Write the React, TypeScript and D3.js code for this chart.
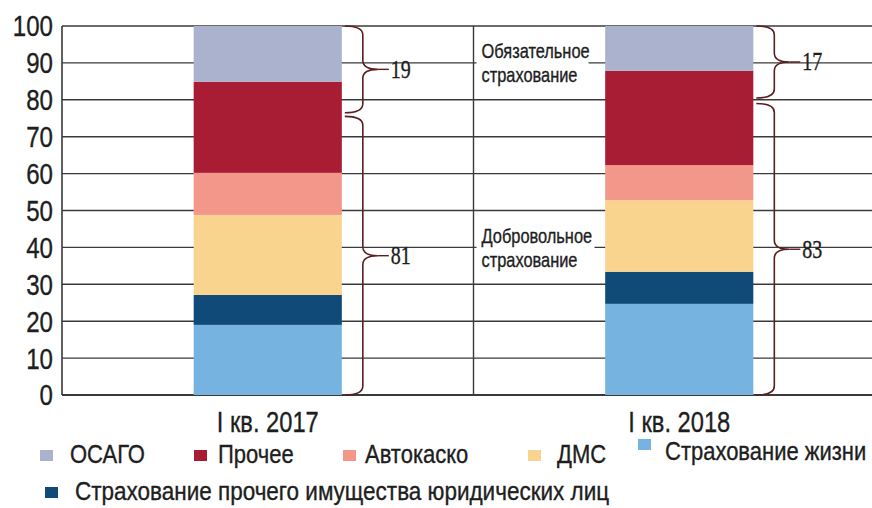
import React from 'react';
import * as d3 from 'd3';

// categories and stacked shares, % (bottom to top)
const periods = ['I кв. 2017', 'I кв. 2018'];
const seriesNames = [
  'Страхование жизни',
  'Страхование прочего имущества юридических лиц',
  'ДМС',
  'Автокаско',
  'Прочее',
  'ОСАГО',
];
const life = [19, 24.7];
const corpProperty = [8.1, 8.7];
const dms = [21.7, 19.4];
const autoCasco = [11.4, 9.5];
const other = [24.7, 25.6];
const osago = [15.1, 12.1];

const yTicks = [0, 10, 20, 30, 40, 50, 60, 70, 80, 90, 100];

// braces: [top, bottom] in % and the label
const braceTop = [[100, 76.5], [100, 80.5]];
const braceTopLabels = ['19', '17'];
const braceBottom = [[75.5, 0], [79, 0]];
const braceBottomLabels = ['81', '83'];

const legendRow1 = ['ОСАГО', 'Прочее', 'Автокаско', 'ДМС', 'Страхование жизни'];
const legendRow2 = ['Страхование прочего имущества юридических лиц'];

const colors: Record<string, string> = {
  'Страхование жизни': '#77b3e1',
  'Страхование прочего имущества юридических лиц': '#0f4a78',
  'ДМС': '#f8d48e',
  'Автокаско': '#f2978a',
  'Прочее': '#a81d33',
  'ОСАГО': '#aab2cd',
};

const W = 872;
const H = 508;
const left = 62;
const top = 26;
const bottom = 395;
const sans = '"Liberation Sans", Arial, sans-serif';
const braceColor = '#5a1f22';

// condensed text: the picture uses a narrow grotesque, so squeeze horizontally
const CText = ({ x, y, sx, size, anchor = 'start', family = sans, dy, children }: any) => (
  <text
    transform={`translate(${x},${y}) scale(${sx},1)`}
    dy={dy}
    textAnchor={anchor}
    fontFamily={family}
    fontSize={size}
    fill="#1e1e1e"
    stroke="#1e1e1e"
    strokeWidth={0.35}
  >
    {children}
  </text>
);

const bracePath = (x0: number, xv: number, xt: number, y1: number, y2: number) => {
  const ym = (y1 + y2) / 2;
  const r = 9;
  return `M${x0},${y1} Q${xv},${y1} ${xv},${y1 + r} L${xv},${ym - r} Q${xv},${ym} ${xt},${ym} ` +
    `Q${xv},${ym} ${xv},${ym + r} L${xv},${y2 - r} Q${xv},${y2} ${x0},${y2}`;
};

export default function App() {
  const y = d3.scaleLinear().domain([0, 100]).range([bottom, top]);
  const x = d3.scaleBand<string>().domain(periods).range([left, 885]).paddingInner(0.64).paddingOuter(0.32);

  const rows = periods.map((p, i) => ({
    period: p,
    'Страхование жизни': life[i],
    'Страхование прочего имущества юридических лиц': corpProperty[i],
    'ДМС': dms[i],
    'Автокаско': autoCasco[i],
    'Прочее': other[i],
    'ОСАГО': osago[i],
  }));
  const stacked = d3.stack<any>().keys(seriesNames)(rows);
  const divider = left + x.step();

  const legend1X = [[40, 70], [194, 218], [343, 365], [528, 557], [638, 665]];

  return (
    <div style={{ position: 'fixed', left: 0, top: 0 }}>
      <svg width={W} height={H} style={{ display: 'block', background: '#fff' }}>
        {/* grid */}
        {yTicks.map(t => (
          <line key={t} x1={left} x2={W} y1={y(t)} y2={y(t)} stroke="#3a3a3a" strokeWidth={t === 0 ? 2 : 1.4} />
        ))}
        <line x1={left} x2={left} y1={top} y2={bottom} stroke="#3a3a3a" strokeWidth={1.6} />
        <line x1={divider} x2={divider} y1={top} y2={bottom} stroke="#3a3a3a" strokeWidth={1.4} />
        {yTicks.map(t => (
          <CText key={t} x={53} y={y(t)} dy="0.36em" anchor="end" size={29} sx={0.83}>{t}</CText>
        ))}

        {/* bars */}
        {stacked.map(s => (
          <g key={s.key} fill={colors[s.key]}>
            {s.map((d, i) => (
              <rect key={i} x={x(periods[i])} width={x.bandwidth()} y={y(d[1])} height={y(d[0]) - y(d[1])} />
            ))}
          </g>
        ))}

        {/* category labels */}
        {periods.map(p => (
          <CText key={p} x={(x(p) as number) + x.bandwidth() / 2} y={432} anchor="middle" size={30} sx={0.79}>{p}</CText>
        ))}

        {/* annotations in the 2018 column */}
        <rect x={divider + 3} y={40} width={112} height={46} fill="#fff" />
        <CText x={divider + 8} y={58} size={20} sx={0.82}>Обязательное</CText>
        <CText x={divider + 8} y={82} size={20} sx={0.82}>страхование</CText>
        <rect x={divider + 3} y={224} width={118} height={48} fill="#fff" />
        <CText x={divider + 8} y={243} size={20} sx={0.82}>Добровольное</CText>
        <CText x={divider + 8} y={267} size={20} sx={0.82}>страхование</CText>

        {/* braces */}
        {periods.map((p, i) => {
          const x0 = (x(p) as number) + x.bandwidth() + 3;
          const xv = x0 + 18;
          const xt = xv + 15;
          const lx = xv + 28;
          const parts = [
            { r: braceTop[i], label: braceTopLabels[i] },
            { r: braceBottom[i], label: braceBottomLabels[i] },
          ];
          return (
            <g key={p}>
              {parts.map(({ r, label }) => {
                const y1 = y(r[0]);
                const y2 = y(r[1]);
                const ym = (y1 + y2) / 2;
                return (
                  <g key={label}>
                    <path d={bracePath(x0, xv, xt, y1, y2)} fill="none" stroke={braceColor} strokeWidth={1.6} />
                    <line x1={xt} x2={lx - 2} y1={ym} y2={ym} stroke={braceColor} strokeWidth={1.4} />
                    <CText x={lx} y={ym} dy="0.34em" size={25} sx={0.8} family='"Liberation Serif", serif'>{label}</CText>
                  </g>
                );
              })}
            </g>
          );
        })}

        {/* legend */}
        {legendRow1.map((name, i) => (
          <g key={name}>
            <rect x={legend1X[i][0]} y={name === 'Страхование жизни' ? 439 : 450} width={13} height={11} fill={colors[name]} />
            <CText x={legend1X[i][1]} y={name === 'Страхование жизни' ? 460 : 463} size={25} sx={0.88}>{name}</CText>
          </g>
        ))}
        {legendRow2.map(name => (
          <g key={name}>
            <rect x={45} y={487} width={13} height={11} fill={colors[name]} />
            <CText x={75} y={500} size={25} sx={0.9}>{name}</CText>
          </g>
        ))}
      </svg>
    </div>
  );
}
